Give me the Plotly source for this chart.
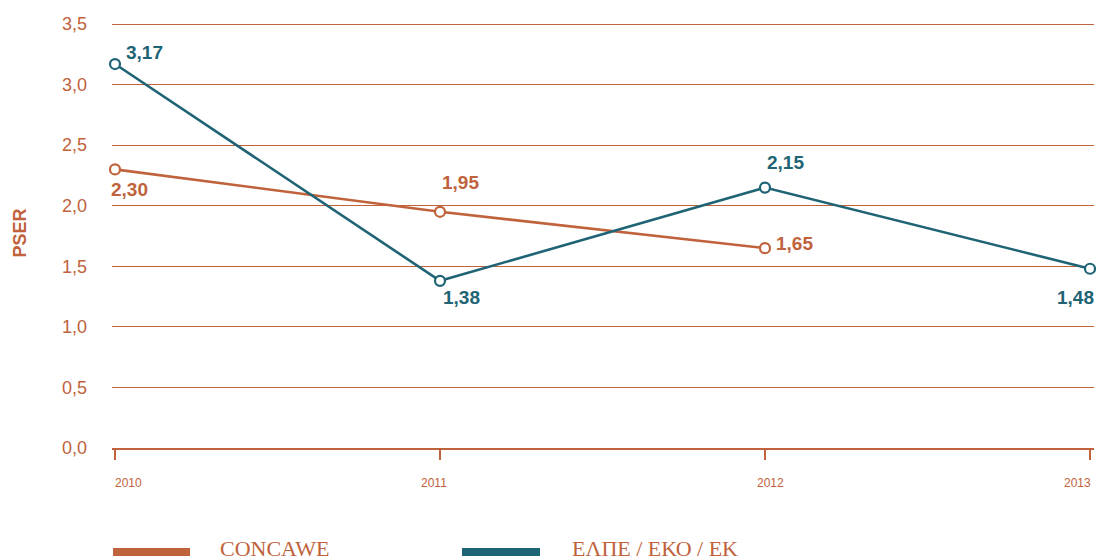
import plotly.graph_objects as go

# ---- data ----
years = [2010, 2011, 2012, 2013]
concawe_years = [2010, 2011, 2012]
concawe_vals = [2.30, 1.95, 1.65]
elpe_years = [2010, 2011, 2012, 2013]
elpe_vals = [3.17, 1.38, 2.15, 1.48]
series_names = ["CONCAWE", "ΕΛΠΕ / ΕΚΟ / ΕΚ"]
y_ticks = [0, 0.5, 1.0, 1.5, 2.0, 2.5, 3.0, 3.5]

ORANGE = "#C0623C"
TEAL = "#1F6475"
W, H = 1096, 560
L, R, T, B = 112, 2, 18, 112
pw, ph = W - L - R, H - T - B
PX_PER_YEAR = (1090 - 115) / 3


def px_x(p):
    return (p - L) / pw


def px_y(p):
    return (H - B - p) / ph


fig = go.Figure()
for xs, ys, col, name in [(concawe_years, concawe_vals, ORANGE, series_names[0]),
                          (elpe_years, elpe_vals, TEAL, series_names[1])]:
    fig.add_trace(go.Scatter(
        x=xs, y=ys, name=name, mode="lines+markers", cliponaxis=False,
        line=dict(color=col, width=2.6),
        marker=dict(size=10, color="white", line=dict(color=col, width=2.2)),
        showlegend=False,
    ))

# data labels
lab_font = dict(family="Liberation Sans, Arial", size=19, weight="bold")
concawe_shift = [(14, -20), (20, 29), (29, 5)]
elpe_shift = [(29, 12), (21, -17), (20, 25), (-15, -29)]
for xs, ys, col, shifts in [(concawe_years, concawe_vals, ORANGE, concawe_shift),
                            (elpe_years, elpe_vals, TEAL, elpe_shift)]:
    for x, y, (dx, dy) in zip(xs, ys, shifts):
        fig.add_annotation(x=x, y=y, text=f"{y:.2f}".replace(".", ","),
                           showarrow=False, xshift=dx, yshift=dy,
                           font=dict(color=col, **lab_font))

# year labels
anchors = ["left", "center", "center", "right"]
xsh = [-2, -6, 5, 3]
for yr, a, s in zip(years, anchors, xsh):
    fig.add_annotation(x=yr, y=px_y(483), yref="paper", text=str(yr),
                       showarrow=False, xanchor=a, yanchor="middle", xshift=s,
                       font=dict(family="Liberation Sans, Arial", size=12, color=ORANGE))

# legend (manual)
for (x0, x1, tx), col, name in [((113, 190, 218), ORANGE, series_names[0]),
                                ((462, 540, 570), TEAL, series_names[1])]:
    fig.add_shape(type="rect", xref="paper", yref="paper",
                  x0=px_x(x0), x1=px_x(x1), y0=px_y(548), y1=px_y(556),
                  fillcolor=col, line=dict(width=0))
    fig.add_annotation(xref="paper", yref="paper", x=px_x(tx), y=px_y(548),
                       text=name, showarrow=False, xanchor="left", yanchor="middle",
                       font=dict(family="Liberation Serif, Times New Roman", size=22, color=ORANGE))

fig.update_layout(
    width=W, height=H, margin=dict(l=L, r=R, t=T, b=B),
    paper_bgcolor="white", plot_bgcolor="white",
    separators=",.",
    xaxis=dict(range=[2010 - 3 / PX_PER_YEAR, 2013 + 4 / PX_PER_YEAR], tickvals=years,
               showticklabels=False, showgrid=False, zeroline=False,
               showline=True, linecolor=ORANGE, linewidth=1.5,
               ticks="outside", ticklen=10, tickwidth=2, tickcolor=ORANGE),
    yaxis=dict(range=[0, 3.55], tickvals=y_ticks, tickformat=".1f",
               showgrid=True, gridcolor=ORANGE, gridwidth=1, zeroline=False,
               ticks="", ticklabelstandoff=24,
               tickfont=dict(family="Liberation Sans, Arial", size=18, color=ORANGE),
               title=dict(text="PSER", standoff=30,
                          font=dict(family="Liberation Sans, Arial", size=18,
                                    weight="bold", color=ORANGE))),
)

fig.write_html("out.html", config={"displayModeBar": False},
               post_script="document.body.style.margin='0';document.body.style.overflow='hidden';")
